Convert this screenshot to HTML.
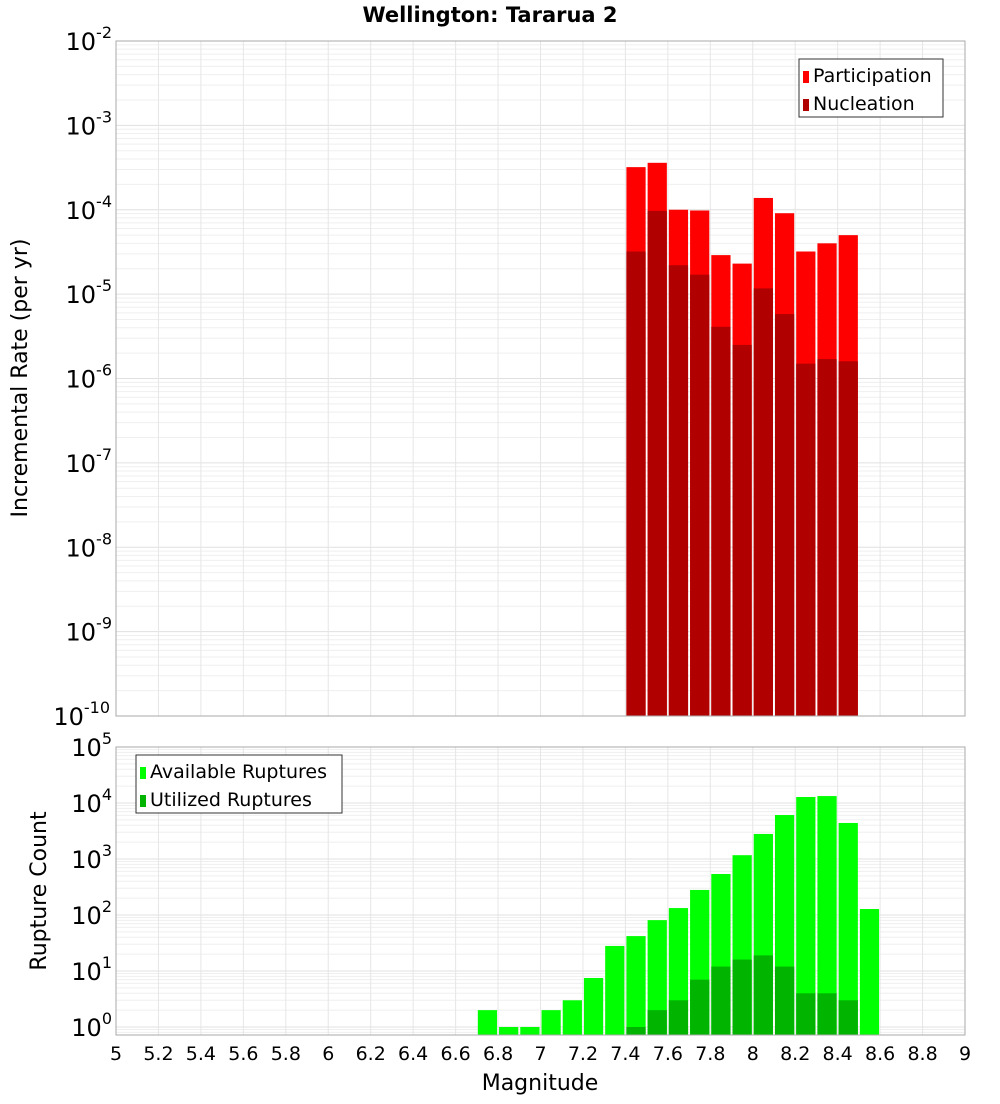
<!DOCTYPE html>
<html><head><meta charset="utf-8"><style>
body{margin:0;background:#fff;font-family:"DejaVu Sans","Liberation Sans",sans-serif;}
svg text{font-family:"DejaVu Sans","Liberation Sans",sans-serif;}
</style></head><body>
<svg id="c" width="1000" height="1100" xmlns="http://www.w3.org/2000/svg">
<text x="490" y="22" text-anchor="middle" font-size="21" font-weight="bold">Wellington: Tararua 2</text>
<text transform="translate(27,378) rotate(-90)" text-anchor="middle" font-size="22">Incremental Rate (per yr)</text>
<text transform="translate(46,891) rotate(-90)" text-anchor="middle" font-size="22">Rupture Count</text>
<text x="540" y="1090" text-anchor="middle" font-size="22">Magnitude</text>
</svg>
<script>
const binCenters=[7.45,7.55,7.65,7.75,7.85,7.95,8.05,8.15,8.25,8.35,8.45];
const participation=[3.2e-4,3.6e-4,1.0e-4,9.8e-5,2.9e-5,2.3e-5,1.38e-4,9.1e-5,3.2e-5,4.0e-5,5.0e-5];
const nucleation=[3.2e-5,9.7e-5,2.2e-5,1.7e-5,4.1e-6,2.5e-6,1.17e-5,5.8e-6,1.5e-6,1.7e-6,1.6e-6];
const countCenters=[6.75,6.85,6.95,7.05,7.15,7.25,7.35,7.45,7.55,7.65,7.75,7.85,7.95,8.05,8.15,8.25,8.35,8.45,8.55];
const available=[2,1,1,2,3,7.5,28,42,81,133,280,540,1170,2800,6100,12800,13300,4400,128];
const utilized=[0,0,0,0,0,0,0,1,2,3,7,12,16,19,12,4,4,3,0];
const xTicks=[5,5.2,5.4,5.6,5.8,6,6.2,6.4,6.6,6.8,7,7.2,7.4,7.6,7.8,8,8.2,8.4,8.6,8.8,9];
const topExps=[-2,-3,-4,-5,-6,-7,-8,-9,-10];
const botExps=[5,4,3,2,1,0];

const NS='http://www.w3.org/2000/svg';
const svg=document.getElementById('c');
function el(t,a,p){const e=document.createElementNS(NS,t);for(const k in a)e.setAttribute(k,a[k]);(p||svg).appendChild(e);return e;}
const X0=116,X1=965;
const xs=m=>X0+(m-5)/4*(X1-X0);
const T0=41,T1=716;
const yTop=v=>T0+(-2-Math.log10(v))*(T1-T0)/8;
const B0=747,B1=1035,BD=56;
const yBot=v=>B0+(5-Math.log10(v))*BD;

function frame(y0,y1,name,minorFn){
  const g=el('g',{});
  
  
  el('rect',{x:X0,y:y0,width:X1-X0,height:y1-y0,fill:'#fff'},g);
  minorFn(g);
  xTicks.forEach(t=>{el('line',{x1:xs(t),x2:xs(t),y1:y0,y2:y1,stroke:'#e6e6e6','stroke-width':1},g);});
  return g;
}
const topG=frame(T0,T1,'top-plot-area',g=>{
  for(let e=-10;e<-2;e++)for(let k=1;k<10;k++){const y=yTop(k*Math.pow(10,e));el('line',{x1:X0,x2:X1,y1:y,y2:y,stroke:k==1?'#e0e0e0':'#efefef'},g);}
});
const botG=frame(B0,B1,'bottom-plot-area',g=>{
  for(let e=-1;e<5;e++)for(let k=1;k<10;k++){const y=yBot(k*Math.pow(10,e));if(y>B1||y<B0)continue;el('line',{x1:X0,x2:X1,y1:y,y2:y,stroke:k==1?'#e0e0e0':'#efefef'},g);}
});
function bar(c,v,yf,ybase,fill,name){
  if(!(v>0))return;
  const x=xs(c-0.05)+1,w=xs(c+0.05)-xs(c-0.05)-2,y=Math.max(yf(v),0);
  const r=el('rect',{x:x,y:y,width:w,height:ybase-y,fill:fill});
  
  
}
binCenters.forEach((c,i)=>bar(c,participation[i],yTop,T1,'#ff0000','participation-bar'));
binCenters.forEach((c,i)=>bar(c,nucleation[i],yTop,T1,'#b00000','nucleation-bar'));
countCenters.forEach((c,i)=>bar(c,available[i],yBot,B1,'#00ff00','available-bar'));
countCenters.forEach((c,i)=>bar(c,utilized[i],yBot,B1,'#00b400','utilized-bar'));
el('rect',{x:X0,y:T0,width:X1-X0,height:T1-T0,fill:'none',stroke:'#aaa'});
el('rect',{x:X0,y:B0,width:X1-X0,height:B1-B0,fill:'none',stroke:'#aaa'});
function expLabel(x,y,e,name){
  const t=el('text',{x:x,y:y,'text-anchor':'end','font-size':24});
  
  
  const s1=el('tspan',{},t);s1.textContent='10';
  const s2=el('tspan',{dy:-12,'font-size':16},t);s2.textContent=String(e);
}
topExps.forEach(e=>expLabel(e<=-10?110:112,yTop(Math.pow(10,e))+9,e,'top-y-tick-label'));
botExps.forEach(e=>expLabel(112,yBot(Math.pow(10,e))+9,e,'bottom-y-tick-label'));
xTicks.forEach(t=>{const tx=el('text',{x:xs(t),y:1060,'text-anchor':'middle','font-size':19});
  
  
  tx.textContent=String(t);});
function legend(x,y,w,items,name){
  const g=el('g',{});
  
  
  el('rect',{x:x,y:y,width:w,height:58,fill:'#fff',stroke:'#333'},g);
  items.forEach((it,i)=>{
    el('rect',{x:x+4,y:y+12+i*28,width:6,height:12,fill:it[1]},g);
    const t=el('text',{x:x+14,y:y+23+i*28,'font-size':19},g);t.textContent=it[0];
  });
}
legend(799,59,144,[['Participation','#ff0000'],['Nucleation','#b00000']],'top-legend');
legend(136,755,206,[['Available Ruptures','#00ff00'],['Utilized Ruptures','#00b400']],'bottom-legend');
</script>
</body></html>
